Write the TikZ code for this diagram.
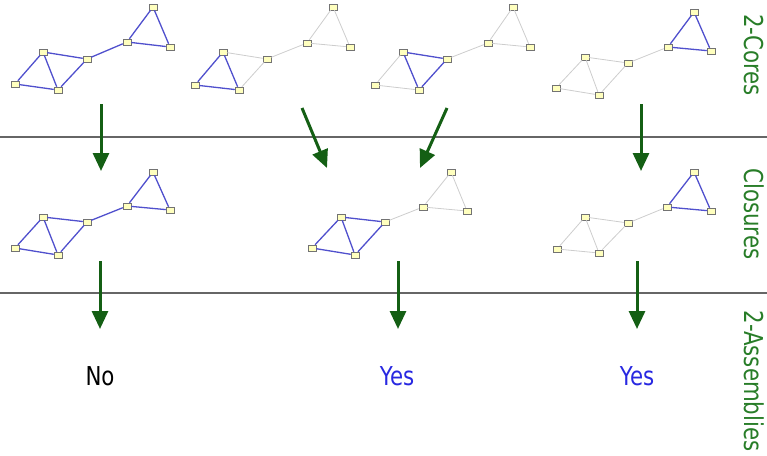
\documentclass[tikz,border=0pt]{standalone}
\usepackage{graphicx}
\usepackage{fontspec}
\setmainfont{DejaVu Sans}
\usetikzlibrary{arrows.meta}
\definecolor{arrgreen}{RGB}{20,95,20}
\definecolor{lblgreen}{RGB}{40,125,40}
\definecolor{yesblue}{RGB}{40,40,225}
\definecolor{edgeblue}{RGB}{80,80,205}
\definecolor{edgegray}{RGB}{205,205,205}
\definecolor{vfill}{RGB}{255,255,190}
\newcommand\sevennodes[8]{%
  \node[vbox] (#1a) at #2 {};
  \node[vbox] (#1b) at #3 {};
  \node[vbox] (#1c) at #4 {};
  \node[vbox] (#1d) at #5 {};
  \node[vbox] (#1e) at #6 {};
  \node[vbox] (#1f) at #7 {};
  \node[vbox] (#1g) at #8 {};
}
\begin{document}
\begin{tikzpicture}[x=1pt,y=-1pt,
  vbox/.style={draw=black!55, fill=vfill, minimum width=8pt, minimum height=6pt, inner sep=0pt, line width=0.5pt},
  be/.style={draw=edgeblue, line width=1.3pt},
  ge/.style={draw=edgegray, line width=0.8pt},
  bigarrow/.style={draw=arrgreen, line width=3pt, -{Triangle[width=16pt,length=18pt]}},
  sepline/.style={draw=black!60, line width=1.2pt},
  sidelbl/.style={text=lblgreen, font=\fontsize{26}{26}\selectfont, rotate=-90, inner sep=0pt},
  ans/.style={font=\fontsize{26}{26}\selectfont, inner sep=0pt}]
\useasboundingbox (0,0) rectangle (767,455);

% separators
\coordinate (l1a) at (0,137); \coordinate (l1b) at (767,137);
\coordinate (l2a) at (0,293); \coordinate (l2b) at (767,293);
\draw[sepline] (l1a) -- (l1b);
\draw[sepline] (l2a) -- (l2b);

% ---- 2-cores row ----
\sevennodes{g1}{(153,7)}{(127,42)}{(170,47)}{(87,59)}{(43,52)}{(15,84)}{(58,90)}
\sevennodes{g2}{(333,7)}{(307,43)}{(350,47)}{(267,59)}{(223,52)}{(195,85)}{(239,90)}
\sevennodes{g3}{(513,7)}{(488,43)}{(530,47)}{(447,59)}{(403,52)}{(375,85)}{(419,90)}
\sevennodes{g4}{(694,12)}{(668,47)}{(711,51)}{(628,63)}{(585,57)}{(556,88)}{(599,95)}
% ---- closures row ----
\sevennodes{g5}{(153,172)}{(127,206)}{(170,210)}{(87,222)}{(43,217)}{(15,248)}{(58,255)}
\sevennodes{g6}{(451,172)}{(423,207)}{(467,211)}{(385,222)}{(341,217)}{(312,248)}{(355,255)}
\sevennodes{g7}{(694,172)}{(667,207)}{(711,211)}{(628,223)}{(585,217)}{(557,249)}{(599,253)}

% edges
\foreach \u/\v in {a/b,a/c,b/c,b/d,d/e,d/g,e/f,e/g,f/g} \draw[be] (g1\u) -- (g1\v);
\foreach \u/\v in {a/b,a/c,b/c,b/d,d/e,d/g} \draw[ge] (g2\u) -- (g2\v);
\foreach \u/\v in {e/f,e/g,f/g} \draw[be] (g2\u) -- (g2\v);
\foreach \u/\v in {a/b,a/c,b/c,b/d,e/f,f/g} \draw[ge] (g3\u) -- (g3\v);
\foreach \u/\v in {d/e,d/g,e/g} \draw[be] (g3\u) -- (g3\v);
\foreach \u/\v in {b/d,d/e,d/g,e/f,e/g,f/g} \draw[ge] (g4\u) -- (g4\v);
\foreach \u/\v in {a/b,a/c,b/c} \draw[be] (g4\u) -- (g4\v);
\foreach \u/\v in {a/b,a/c,b/c,b/d,d/e,d/g,e/f,e/g,f/g} \draw[be] (g5\u) -- (g5\v);
\foreach \u/\v in {a/b,a/c,b/c,b/d} \draw[ge] (g6\u) -- (g6\v);
\foreach \u/\v in {d/e,d/g,e/f,e/g,f/g} \draw[be] (g6\u) -- (g6\v);
\foreach \u/\v in {b/d,d/e,d/g,e/f,e/g,f/g} \draw[ge] (g7\u) -- (g7\v);
\foreach \u/\v in {a/b,a/c,b/c} \draw[be] (g7\u) -- (g7\v);

% arrows
\coordinate (a1s) at (101,104); \coordinate (a1e) at (101,171);
\coordinate (a2s) at (302,108); \coordinate (a2e) at (327,168);
\coordinate (a3s) at (447,108); \coordinate (a3e) at (420,168);
\coordinate (a4s) at (641,104); \coordinate (a4e) at (641,171);
\coordinate (b1s) at (100,261); \coordinate (b1e) at (100,329);
\coordinate (b2s) at (398,261); \coordinate (b2e) at (398,329);
\coordinate (b3s) at (637,261); \coordinate (b3e) at (637,329);
\foreach \p in {a1,a2,a3,a4,b1,b2,b3} \draw[bigarrow] (\p s) -- (\p e);

% answers
\node[ans] (no) at (100,376) {\scalebox{0.82}[1]{No}};
\node[ans, text=yesblue] (yes1) at (397,376) {\scalebox{0.82}[1]{Yes}};
\node[ans, text=yesblue] (yes2) at (637,376) {\scalebox{0.82}[1]{Yes}};

% side labels
\node[sidelbl] (lcores) at (754,55) {\scalebox{0.82}[1]{2-Cores}};
\node[sidelbl] (lclos) at (754,214) {\scalebox{0.82}[1]{Closures}};
\node[sidelbl] (lassem) at (754,381) {\scalebox{0.82}[1]{2-Assemblies}};
\end{tikzpicture}
\end{document}
